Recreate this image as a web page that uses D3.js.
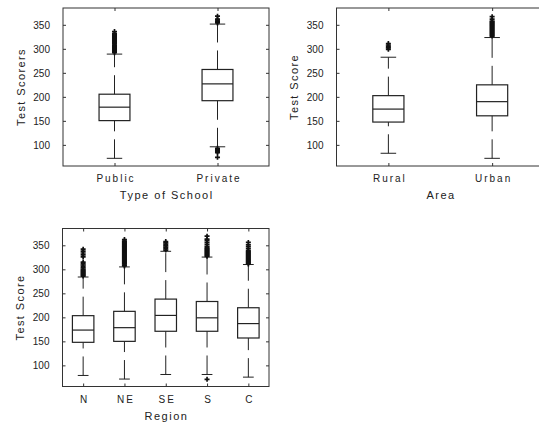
<!DOCTYPE html>
<html>
<head>
<meta charset="utf-8">
<script src="https://cdn.jsdelivr.net/npm/d3@7"></script>
<style>
  body { margin: 0; background: #fff; }
  text { font-family: "Liberation Sans", Arial, sans-serif; fill: #222; }
</style>
</head>
<body>
<div id="chart"></div>
<script>
// tick labels of the score axis (shared by all panels)
var scoreTicks = [100, 150, 200, 250, 300, 350];

// panel 1: type of school
var schoolTypes = ["Public", "Private"];
var schoolLow = [72, 96];
var schoolQ1 = [150.5, 192];
var schoolMedian = [178.5, 227];
var schoolQ3 = [205.5, 257];
var schoolHigh = [289, 351.5];
var schoolOutliers = [
  [292, 294, 296, 298, 300, 302, 304, 306, 308, 310, 312, 314, 316, 318, 320, 322, 324, 326, 328, 330, 332, 336],
  [354, 356, 358, 360, 362, 368, 93, 90, 88, 86, 84, 74]
];

// panel 2: area
var areas = ["Rural", "Urban"];
var areaLow = [82.5, 72];
var areaQ1 = [147.5, 160.5];
var areaMedian = [174.5, 190];
var areaQ3 = [202.5, 225];
var areaHigh = [282.5, 323.5];
var areaOutliers = [
  [299, 302, 305, 308, 311],
  [326, 328, 330, 332, 334, 336, 338, 340, 342, 344, 346, 348, 350, 352, 354, 356, 358, 362, 367]
];

// panel 3: region
var regions = ["N", "NE", "SE", "S", "C"];
var regionLow = [79, 71.5, 81, 81, 75.5];
var regionQ1 = [148, 150, 171, 171, 157];
var regionMedian = [173.5, 178.5, 204, 199, 187];
var regionQ3 = [203.5, 212.5, 238, 233, 220];
var regionHigh = [284, 305, 337.5, 325.5, 310];
var regionOutliers = [
  [286, 288, 290, 292, 294, 296, 298, 300, 303, 306, 309, 312, 315, 326, 330, 334, 338, 342],
  [307, 309, 311, 313, 315, 317, 319, 321, 323, 325, 327, 329, 331, 333, 335, 337, 339, 341, 343, 345, 347, 349, 351, 353, 355, 357, 359, 362],
  [340, 343, 346, 349, 352, 355, 358],
  [327, 329, 331, 333, 335, 337, 339, 341, 343, 345, 348, 352, 356, 360, 363, 369, 71],
  [311, 313, 315, 317, 319, 321, 323, 325, 327, 329, 331, 333, 335, 337, 339, 343, 347, 351, 356]
];

var svg = d3.select("#chart")
  .append("svg")
    .attr("width", 539)
    .attr("height", 431);

var ink = "#222";

function drawPanel(p) {
  var g = svg.append("g");

  var x = d3.scalePoint()
    .domain(p.cats)
    .range([p.left, p.right])
    .padding(0.5);

  var y = d3.scaleLinear()
    .domain([56, 385])
    .range([p.bottom, p.top]);

  var bw = x.step() * p.boxFrac;

  // frame
  g.append("rect")
    .attr("x", p.left)
    .attr("y", p.top)
    .attr("width", p.right - p.left)
    .attr("height", p.bottom - p.top)
    .attr("fill", "none")
    .attr("stroke", "#333");

  // axes, ticks point inward on all four sides
  var left = g.append("g")
    .attr("transform", "translate(" + p.left + ",0)")
    .call(d3.axisLeft(y).tickValues(scoreTicks).tickSizeInner(-3).tickSizeOuter(0).tickPadding(13));
  left.selectAll("text").style("font-size", "10px");

  g.append("g")
    .attr("transform", "translate(" + p.right + ",0)")
    .call(d3.axisRight(y).tickValues(scoreTicks).tickSizeInner(-3).tickSizeOuter(0).tickFormat(""));

  var bottom = g.append("g")
    .attr("transform", "translate(0," + p.bottom + ")")
    .call(d3.axisBottom(x).tickSizeInner(-3).tickSizeOuter(0).tickPadding(9));
  bottom.selectAll("text")
    .style("font-size", "10px")
    .style("letter-spacing", "2px")
    .attr("dx", 1);

  g.append("g")
    .attr("transform", "translate(0," + p.top + ")")
    .call(d3.axisTop(x).tickSizeInner(-3).tickSizeOuter(0).tickFormat(""));

  g.selectAll(".domain").remove();
  g.selectAll(".tick line").attr("stroke", "#333");
  g.selectAll(".tick text").style("fill", ink).style("font-family", "'Liberation Sans', Arial, sans-serif");

  // axis titles
  g.append("text")
    .attr("x", (p.left + Math.min(p.right, 539 + (p.right - 539))) / 2 + 0.75)
    .attr("y", p.bottom + 33)
    .attr("text-anchor", "middle")
    .style("font-size", "11px")
    .style("letter-spacing", "1.5px")
    .text(p.xlabel);

  g.append("text")
    .attr("transform", "translate(" + (p.left - 42) + "," + ((p.top + p.bottom) / 2) + ") rotate(-90)")
    .attr("dy", "0.35em")
    .attr("text-anchor", "middle")
    .style("font-size", "11px")
    .style("letter-spacing", "1.4px")
    .text(p.ylabel);

  var rows = p.cats.map(function(c, i) {
    return { cat: c, low: p.low[i], q1: p.q1[i], med: p.med[i], q3: p.q3[i], high: p.high[i], out: p.out[i] };
  });

  var box = g.selectAll(".box")
    .data(rows)
    .enter().append("g")
      .attr("class", "box");

  // whiskers, dashed, drawn upward
  box.append("line")
    .attr("x1", function(d) { return x(d.cat); })
    .attr("x2", function(d) { return x(d.cat); })
    .attr("y1", function(d) { return y(d.low); })
    .attr("y2", function(d) { return y(d.q1); })
    .attr("stroke", ink)
    .attr("stroke-dasharray", "19,8");

  box.append("line")
    .attr("x1", function(d) { return x(d.cat); })
    .attr("x2", function(d) { return x(d.cat); })
    .attr("y1", function(d) { return y(d.q3); })
    .attr("y2", function(d) { return y(d.high); })
    .attr("stroke", ink)
    .attr("stroke-dasharray", "19,8");

  // caps
  ["low", "high"].forEach(function(k) {
    box.append("line")
      .attr("x1", function(d) { return x(d.cat) - bw / 4; })
      .attr("x2", function(d) { return x(d.cat) + bw / 4; })
      .attr("y1", function(d) { return y(d[k]); })
      .attr("y2", function(d) { return y(d[k]); })
      .attr("stroke", ink);
  });

  // boxes
  box.append("rect")
    .attr("x", function(d) { return x(d.cat) - bw / 2; })
    .attr("y", function(d) { return y(d.q3); })
    .attr("width", bw)
    .attr("height", function(d) { return y(d.q1) - y(d.q3); })
    .attr("fill", "none")
    .attr("stroke", ink)
    .attr("stroke-width", 1.2);

  // medians
  box.append("line")
    .attr("x1", function(d) { return x(d.cat) - bw / 2; })
    .attr("x2", function(d) { return x(d.cat) + bw / 2; })
    .attr("y1", function(d) { return y(d.med); })
    .attr("y2", function(d) { return y(d.med); })
    .attr("stroke", ink)
    .attr("stroke-width", 1.2);

  // outliers
  var cross = d3.symbol().type(d3.symbolCross).size(14);
  box.selectAll(".out")
    .data(function(d) { return d.out.map(function(v) { return { cat: d.cat, v: v }; }); })
    .enter().append("path")
      .attr("class", "out")
      .attr("transform", function(d) { return "translate(" + x(d.cat) + "," + y(d.v) + ")"; })
      .attr("d", cross)
      .attr("fill", "#111");
}

drawPanel({
  cats: schoolTypes, low: schoolLow, q1: schoolQ1, med: schoolMedian, q3: schoolQ3, high: schoolHigh, out: schoolOutliers,
  left: 63, right: 269, top: 8, bottom: 166, boxFrac: 0.3,
  xlabel: "Type of School", ylabel: "Test Scorers"
});

drawPanel({
  cats: areas, low: areaLow, q1: areaQ1, med: areaMedian, q3: areaQ3, high: areaHigh, out: areaOutliers,
  left: 336.5, right: 544, top: 8, bottom: 166, boxFrac: 0.3,
  xlabel: "Area", ylabel: "Test Score"
});

drawPanel({
  cats: regions, low: regionLow, q1: regionQ1, med: regionMedian, q3: regionQ3, high: regionHigh, out: regionOutliers,
  left: 62.5, right: 269, top: 228.5, bottom: 386.5, boxFrac: 0.52,
  xlabel: "Region", ylabel: "Test Score"
});
</script>
</body>
</html>
